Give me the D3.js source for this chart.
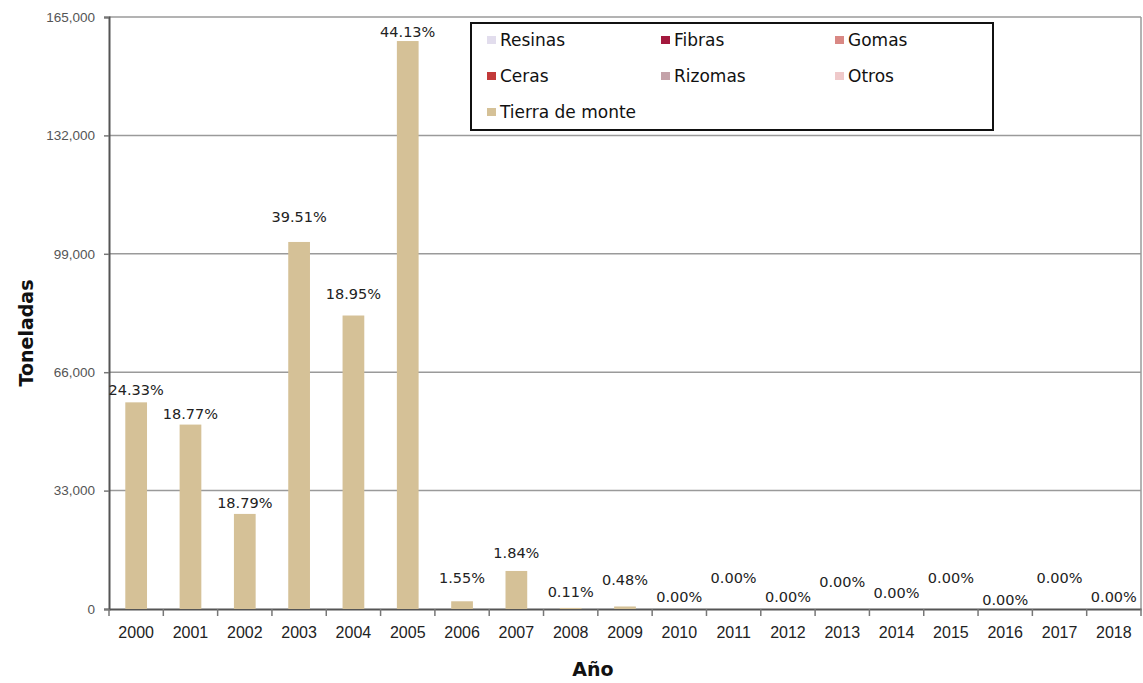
<!DOCTYPE html>
<html>
<head>
<meta charset="utf-8">
<script src="https://cdn.jsdelivr.net/npm/d3@7/dist/d3.min.js"></script>
<style>
  body { margin: 0; background: #fff; }
  svg { font-family: "DejaVu Sans", sans-serif; }
</style>
</head>
<body>
<div id="chart"></div>
<script>
// Data
const years = ["2000","2001","2002","2003","2004","2005","2006","2007","2008","2009",
  "2010","2011","2012","2013","2014","2015","2016","2017","2018"];
const tierraDeMonte = [57600, 51400, 26500, 102300, 81800, 158300, 2150, 10600, 300, 700,
  0, 0, 0, 0, 0, 0, 0, 0, 0];
const percentLabels = ["24.33%","18.77%","18.79%","39.51%","18.95%","44.13%","1.55%","1.84%",
  "0.11%","0.48%","0.00%","0.00%","0.00%","0.00%","0.00%","0.00%","0.00%","0.00%","0.00%"];
// value (toneladas) where each label sits, as placed in the original
const labelAnchor = [61150, 54400, 29600, 109400, 87700, 160800, 8700, 15600, 4800, 8100,
  3350, 8650, 3350, 7550, 4450, 8650, 2500, 8650, 3350];
const yTicks = [0, 33000, 66000, 99000, 132000, 165000];
const seriesNames = ["Resinas","Fibras","Gomas","Ceras","Rizomas","Otros","Tierra de monte"];
const seriesColors = ["#e2dded","#a3193d","#d98884","#c23a3a","#c4a2a9","#efc9ca","#d5c197"];

const config = {
  width: 1143, height: 683,
  margin: { top: 17, right: 2, bottom: 74, left: 109 }
};
const innerW = config.width - config.margin.left - config.margin.right;
const innerH = config.height - config.margin.top - config.margin.bottom;

const svg = d3.select("#chart").append("svg")
  .attr("width", config.width)
  .attr("height", config.height);

const g = svg.append("g")
  .attr("transform", `translate(${config.margin.left},${config.margin.top})`);

const x = d3.scaleBand().domain(years).range([0, innerW])
  .paddingInner(0.6).paddingOuter(0.3);
const y = d3.scaleLinear().domain([0, 165000]).range([innerH, 0]);

// gridlines
g.selectAll(".grid").data(yTicks.slice(1)).enter().append("line")
  .attr("x1", 0).attr("x2", innerW)
  .attr("y1", d => y(d)).attr("y2", d => y(d))
  .style("stroke", "#9a9a9a").style("stroke-width", 1.5);

// right frame
g.append("line")
  .attr("x1", innerW).attr("x2", innerW).attr("y1", y(165000)).attr("y2", innerH)
  .style("stroke", "#9a9a9a").style("stroke-width", 1.5);

// y axis
const yAxis = d3.axisLeft(y).tickValues(yTicks).tickSize(5).tickPadding(9)
  .tickFormat(d3.format(","));
const yG = g.append("g").call(yAxis);
yG.select(".domain").style("stroke", "#555").style("stroke-width", 2);
yG.selectAll(".tick line").style("stroke", "#777").style("stroke-width", 1.5);
yG.selectAll(".tick text").style("font-size", "13.5px").style("fill", "#555");

// x axis
const xAxis = d3.axisBottom(x).tickSize(0).tickPadding(18);
const xG = g.append("g").attr("transform", `translate(0,${innerH})`).call(xAxis);
xG.select(".domain").style("stroke", "#555").style("stroke-width", 2);
xG.selectAll(".tick text").style("font-size", "16px").style("fill", "#222");

// category boundary ticks
const step = x.step();
g.selectAll(".xtick").data(d3.range(years.length + 1)).enter().append("line")
  .attr("x1", i => x(years[0]) - x.bandwidth() * 0.75 + i * step)
  .attr("x2", i => x(years[0]) - x.bandwidth() * 0.75 + i * step)
  .attr("y1", innerH).attr("y2", innerH + 7)
  .style("stroke", "#777").style("stroke-width", 1.5);

// bars
g.selectAll(".bar").data(years).enter().append("rect")
  .attr("x", d => x(d))
  .attr("width", x.bandwidth())
  .attr("y", (d, i) => y(tierraDeMonte[i]))
  .attr("height", (d, i) => innerH - y(tierraDeMonte[i]))
  .style("fill", seriesColors[6]);

// bar labels
g.selectAll(".lbl").data(years).enter().append("text")
  .attr("x", d => x(d) + x.bandwidth() / 2)
  .attr("y", (d, i) => y(labelAnchor[i]))
  .attr("dy", "0.35em")
  .attr("text-anchor", "middle")
  .style("font-size", "14.5px")
  .style("fill", "#222")
  .text((d, i) => percentLabels[i]);

// axis titles
svg.append("text")
  .attr("transform", "translate(26,333) rotate(-90)")
  .attr("dy", "0.35em")
  .attr("text-anchor", "middle")
  .style("font-size", "19px").style("font-weight", "bold").style("fill", "#111")
  .text("Toneladas");
svg.append("text")
  .attr("x", 593).attr("y", 669).attr("dy", "0.35em")
  .attr("text-anchor", "middle")
  .style("font-size", "19px").style("font-weight", "bold").style("fill", "#111")
  .text("Año");

// legend
const legend = svg.append("g").attr("transform", "translate(471,23)");
legend.append("rect")
  .attr("width", 522).attr("height", 107)
  .style("fill", "#fff").style("stroke", "#111").style("stroke-width", 2);
const legendCols = [16, 190, 364];
const item = legend.selectAll(".li").data(seriesNames).enter().append("g")
  .attr("transform", (d, i) => `translate(${legendCols[i % 3]},${17 + Math.floor(i / 3) * 36})`);
item.append("rect")
  .attr("x", 0).attr("y", -4).attr("width", 9).attr("height", 8)
  .style("fill", (d, i) => seriesColors[i]);
item.append("text")
  .attr("x", 13).attr("dy", "0.35em")
  .style("font-size", "17px").style("fill", "#111")
  .text(d => d);
</script>
</body>
</html>
